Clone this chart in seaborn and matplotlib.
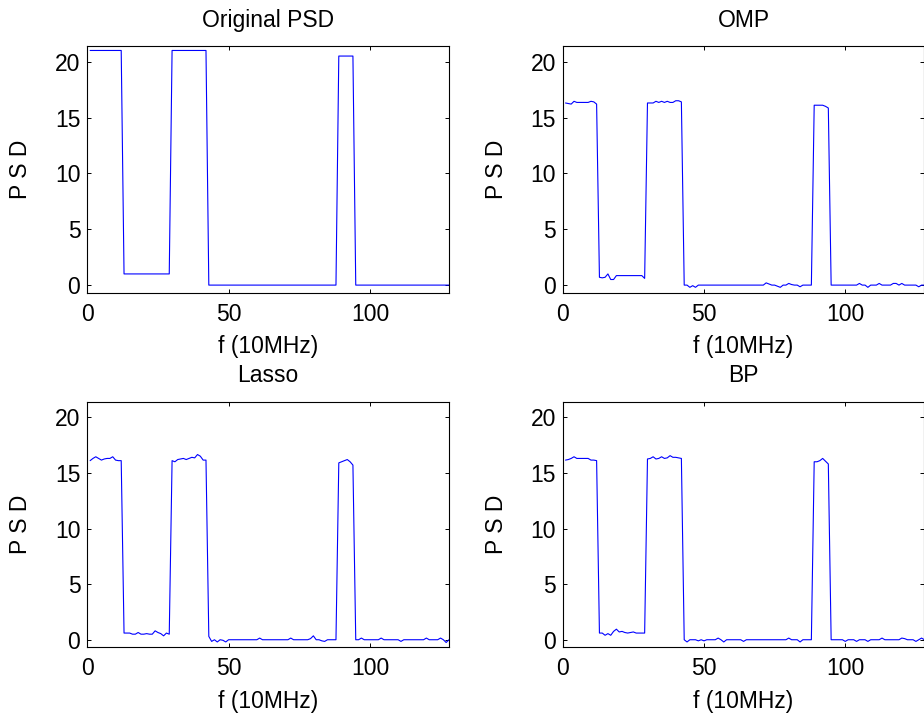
import matplotlib
matplotlib.use("Agg")
import matplotlib.pyplot as plt
import pandas as pd
import seaborn as sns

# ---------------- data ----------------
freq = list(range(1, 129))
titles = ["Original PSD", "OMP", "Lasso", "BP"]
x_label = "f (10MHz)"
y_label = "P S D"
x_ticks = [0, 50, 100]
y_ticks = [0, 5, 10, 15, 20]

# 8 values per row (indices 1-8, 9-16, ...)
original_psd = [
    21.0, 21.0, 21.0, 21.0, 21.0, 21.0, 21.0, 21.0,
    21.0, 21.0, 21.0, 21.0, 1.0, 1.0, 1.0, 1.0,
    1.0, 1.0, 1.0, 1.0, 1.0, 1.0, 1.0, 1.0,
    1.0, 1.0, 1.0, 1.0, 1.0, 21.0, 21.0, 21.0,
    21.0, 21.0, 21.0, 21.0, 21.0, 21.0, 21.0, 21.0,
    21.0, 21.0, 0.0, 0.0, 0.0, 0.0, 0.0, 0.0,
    0.0, 0.0, 0.0, 0.0, 0.0, 0.0, 0.0, 0.0,
    0.0, 0.0, 0.0, 0.0, 0.0, 0.0, 0.0, 0.0,
    0.0, 0.0, 0.0, 0.0, 0.0, 0.0, 0.0, 0.0,
    0.0, 0.0, 0.0, 0.0, 0.0, 0.0, 0.0, 0.0,
    0.0, 0.0, 0.0, 0.0, 0.0, 0.0, 0.0, 0.0,
    20.5, 20.5, 20.5, 20.5, 20.5, 20.5, 0.0, 0.0,
    0.0, 0.0, 0.0, 0.0, 0.0, 0.0, 0.0, 0.0,
    0.0, 0.0, 0.0, 0.0, 0.0, 0.0, 0.0, 0.0,
    0.0, 0.0, 0.0, 0.0, 0.0, 0.0, 0.0, 0.0,
    0.0, 0.0, 0.0, 0.0, 0.0, 0.0, 0.0, 0.0,
]

omp_psd = [
    16.3, 16.25, 16.2, 16.45, 16.35, 16.35, 16.35, 16.35,
    16.35, 16.45, 16.4, 16.2, 0.7, 0.65, 0.7, 1.0,
    0.5, 0.5, 0.85, 0.85, 0.85, 0.85, 0.85, 0.85,
    0.85, 0.85, 0.85, 0.85, 0.6, 16.3, 16.3, 16.3,
    16.45, 16.35, 16.45, 16.35, 16.45, 16.35, 16.35, 16.5,
    16.5, 16.4, 0.0, 0.0, -0.2, -0.05, -0.2, 0.0,
    0.0, 0.0, 0.0, 0.0, 0.0, 0.0, 0.0, 0.0,
    0.0, 0.0, 0.0, 0.0, 0.0, 0.0, 0.0, 0.0,
    0.0, 0.0, 0.0, 0.0, 0.0, 0.0, 0.0, 0.2,
    0.1, 0.0, 0.0, -0.1, -0.2, 0.0, 0.0, 0.15,
    0.05, 0.0, 0.0, -0.15, 0.0, 0.0, 0.0, 0.0,
    16.1, 16.1, 16.1, 16.1, 16.0, 15.85, 0.0, 0.0,
    0.0, 0.0, 0.0, 0.0, 0.0, 0.0, 0.0, 0.0,
    0.15, 0.0, 0.0, -0.2, 0.0, 0.0, 0.0, 0.15,
    0.0, 0.0, 0.0, 0.0, 0.15, 0.15, 0.0, 0.15,
    0.0, 0.0, 0.0, 0.0, 0.0, -0.15, 0.0, 0.0,
]

lasso_psd = [
    16.1, 16.3, 16.45, 16.3, 16.15, 16.25, 16.3, 16.3,
    16.45, 16.15, 16.1, 16.1, 0.6, 0.6, 0.6, 0.5,
    0.5, 0.65, 0.5, 0.5, 0.55, 0.5, 0.5, 0.8,
    0.65, 0.55, 0.35, 0.6, 0.5, 16.1, 16.0, 16.2,
    16.25, 16.3, 16.2, 16.3, 16.4, 16.35, 16.65, 16.5,
    16.15, 16.15, 0.3, -0.15, 0.0, -0.2, 0.0, -0.05,
    -0.2, 0.0, 0.0, 0.0, 0.0, 0.0, 0.0, 0.0,
    0.0, 0.0, 0.0, 0.0, 0.15, 0.0, 0.0, 0.0,
    0.0, 0.0, 0.0, 0.0, 0.0, 0.0, 0.0, 0.15,
    0.0, 0.0, 0.0, 0.0, 0.0, 0.0, 0.1, 0.35,
    0.0, 0.0, -0.1, -0.15, 0.0, 0.0, 0.0, 0.0,
    15.9, 16.0, 16.1, 16.2, 16.0, 15.7, 0.0, 0.0,
    0.15, 0.0, 0.0, 0.0, 0.0, 0.0, 0.0, 0.15,
    0.0, 0.0, 0.0, 0.0, 0.0, 0.0, -0.15, 0.0,
    0.0, 0.0, 0.0, 0.0, 0.0, 0.0, 0.0, 0.15,
    0.0, 0.0, 0.0, 0.0, 0.15, 0.0, -0.25, 0.0,
]

bp_psd = [
    16.15, 16.2, 16.3, 16.45, 16.3, 16.3, 16.3, 16.3,
    16.3, 16.15, 16.15, 16.1, 0.6, 0.6, 0.4, 0.55,
    0.4, 0.75, 0.95, 0.7, 0.75, 0.65, 0.6, 0.65,
    0.7, 0.6, 0.6, 0.6, 0.6, 16.25, 16.3, 16.45,
    16.25, 16.3, 16.45, 16.3, 16.35, 16.55, 16.4, 16.4,
    16.35, 16.3, 0.0, -0.2, 0.0, 0.0, 0.0, -0.1,
    0.0, -0.1, 0.0, 0.0, 0.0, 0.0, 0.15, 0.0,
    -0.2, 0.0, 0.0, 0.0, 0.0, 0.0, 0.0, -0.15,
    0.0, 0.0, 0.0, 0.0, 0.0, 0.0, 0.0, 0.0,
    0.0, 0.0, 0.0, 0.0, 0.0, 0.0, 0.0, 0.15,
    0.0, 0.0, 0.0, -0.2, 0.0, 0.0, 0.0, 0.0,
    16.0, 16.0, 16.1, 16.3, 16.05, 15.8, 0.0, 0.0,
    0.0, 0.0, 0.0, -0.15, 0.0, 0.0, 0.0, -0.15,
    0.0, 0.0, 0.0, -0.15, 0.0, 0.0, 0.0, 0.0,
    0.15, 0.0, 0.0, 0.0, 0.0, 0.0, 0.0, 0.15,
    0.1, 0.0, 0.0, 0.0, -0.15, 0.0, 0.15, 0.0,
]

series = [original_psd, omp_psd, lasso_psd, bp_psd]

# ---------------- style ----------------
sns.set_theme(style="ticks")
plt.rcParams["font.family"] = ["Liberation Sans", "DejaVu Sans"]
plt.rcParams["text.color"] = "black"
plt.rcParams["axes.labelcolor"] = "black"
plt.rcParams["xtick.color"] = "black"
plt.rcParams["ytick.color"] = "black"
FS = 16.5

W, H = 924, 715
fig = plt.figure(figsize=(W / 100, H / 100), dpi=100)
fig.patch.set_facecolor("white")

# axes boxes in pixels: (left, right, top, bottom)
boxes = [
    (87.3, 449.0, 46.0, 292.7),
    (562.7, 924.4, 46.0, 292.7),
    (87.3, 449.0, 401.7, 647.3),
    (562.7, 924.4, 401.7, 647.3),
]

for (l, r, t, b), title, vals in zip(boxes, titles, series):
    ax = fig.add_axes([l / W, 1 - b / H, (r - l) / W, (b - t) / H])
    df = pd.DataFrame({"f": freq, "psd": vals})
    sns.lineplot(data=df, x="f", y="psd", ax=ax, color="#0000ff", linewidth=0.8)
    ax.set_xlim(0, 128)
    ax.set_ylim(-0.68, 21.4)
    ax.set_xticks(x_ticks)
    ax.set_yticks(y_ticks)
    for sp in ax.spines.values():
        sp.set_visible(True)
        sp.set_color("black")
        sp.set_linewidth(0.8)
    ax.tick_params(axis="both", direction="in", length=2.6, width=0.7,
                   top=True, right=True, labelsize=FS, colors="black")
    ax.tick_params(axis="x", pad=7.2)
    ax.tick_params(axis="y", pad=5.0)
    ax.set_title(title, fontsize=FS, pad=14, color="black")
    ax.set_xlabel(x_label, fontsize=FS, va="top", color="black")
    ax.set_ylabel(y_label, fontsize=FS, va="center", color="black")
    ax.xaxis.set_label_coords(0.5, -0.172)
    ax.yaxis.set_label_coords(-66.5 / (r - l), 0.5)
    ax.grid(False)
    ax.set_facecolor("white")

fig.savefig("out.png", dpi=100, facecolor="white")
